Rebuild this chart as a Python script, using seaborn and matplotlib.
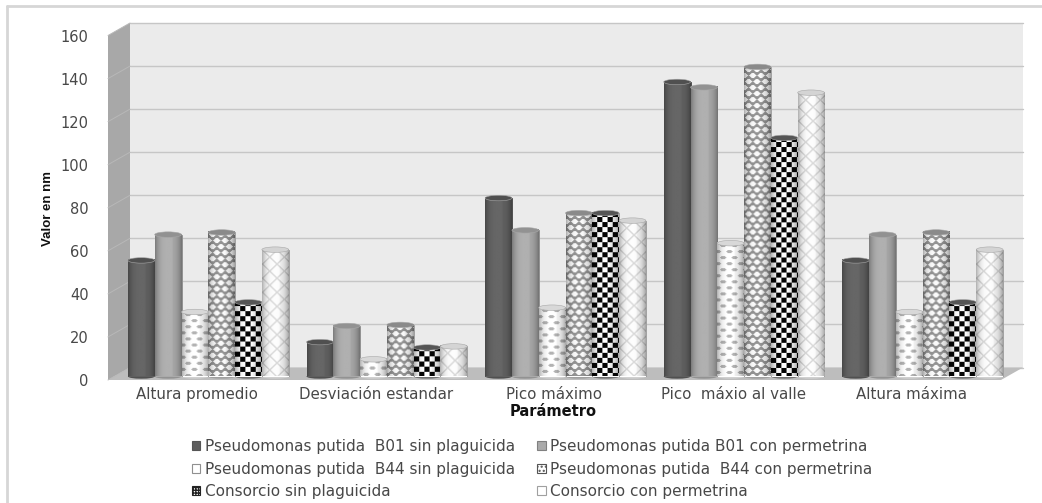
import numpy as np
import pandas as pd
import seaborn as sns
import matplotlib
matplotlib.use("Agg")
import matplotlib.pyplot as plt
from matplotlib.patches import Ellipse, Polygon, Patch
from matplotlib.lines import Line2D

parametros = ["Altura promedio", "Desviación estandar", "Pico máximo",
              "Pico  máxio al valle", "Altura máxima"]
b01_sin = [54, 16, 83, 137, 54]
b01_con = [66, 23.5, 68, 134.5, 66]
b44_sin = [30, 8, 32, 62, 30]
b44_con = [67, 24, 76, 144, 67]
consorcio_sin = [34.5, 13.5, 76, 111, 34.5]
consorcio_con = [59, 14, 72.5, 132, 59]

series_names = ["Pseudomonas putida  B01 sin plaguicida",
                "Pseudomonas putida B01 con permetrina",
                "Pseudomonas putida  B44 sin plaguicida",
                "Pseudomonas putida  B44 con permetrina",
                "Consorcio sin plaguicida",
                "Consorcio con permetrina"]
series_values = [b01_sin, b01_con, b44_sin, b44_con, consorcio_sin, consorcio_con]
base_colors = ["#5e5e5e", "#aaaaaa", "#ffffff", "#ffffff", "#ffffff", "#ffffff"]
cap_colors = ["#505050", "#929292", "#d8d8d8", "#8a8a8a", "#555555", "#d4d4d4"]
foot_colors = ["#505050", "#929292", "#d0d0d0", "#a0a0a0", "#707070", "#d0d0d0"]
y_ticks = [0, 20, 40, 60, 80, 100, 120, 140, 160]

W, H = 1042, 503
TEXT = "#484848"

df = pd.DataFrame({
    "Parámetro": np.repeat(parametros, len(series_names)),
    "Serie": series_names * len(parametros),
    "Valor": [series_values[s][p] for p in range(len(parametros))
              for s in range(len(series_names))],
})

sns.set_theme(style="white", rc={"font.family": "DejaVu Sans"})
fig = plt.figure(figsize=(W / 100, H / 100), dpi=100, facecolor="white")


def px_axes(left, top, right, bottom):
    return fig.add_axes([left / W, 1 - bottom / H, (right - left) / W, (bottom - top) / H])


# Chart frame: only the top and left rules are visible
fig.add_artist(Line2D([7 / W, 7 / W], [0, 1 - 6 / H], color="#d6d6d6", lw=2))
fig.add_artist(Line2D([7 / W, 1], [1 - 6 / H, 1 - 6 / H], color="#d6d6d6", lw=2))

# Front plane of the 3D box: carries the axis ticks and labels
L, T, R, B = 108, 35.5, 1001, 380
front = px_axes(L, T, R, B)
front.set_xlim(-0.5, len(parametros) - 0.5)
front.set_ylim(0, 160)
front.set_yticks(y_ticks)
front.set_xticks(range(len(parametros)))
front.set_xticklabels(parametros, fontsize=10.8, color=TEXT)
front.set_yticklabels([str(v) for v in y_ticks], fontsize=10.5, color=TEXT)
front.tick_params(axis="y", length=0, pad=14)
front.tick_params(axis="x", length=0, pad=5)
for spine in front.spines.values():
    spine.set_visible(False)
front.patch.set_visible(False)
fig.text(553 / W, 1 - 411 / H, "Parámetro", ha="center", va="center",
         fontsize=10.5, fontweight="bold", color="#111111")
fig.text(48 / W, 1 - 208 / H, "Valor en nm", rotation=90, ha="center", va="center",
         fontsize=9.5, fontweight="bold", family="Liberation Sans", color="#111111")

dx, dy = 22 / (R - L), 12.5 / (B - T)
tf = front.transAxes
front.add_patch(Polygon([(dx, dy), (1 + dx, dy), (1 + dx, 1 + dy), (dx, 1 + dy)],
                        transform=tf, clip_on=False, fc="#ebebeb", ec="none", zorder=0))
front.add_patch(Polygon([(0, 0), (dx, dy), (dx, 1 + dy), (0, 1)],
                        transform=tf, clip_on=False, fc="#a8a8a8", ec="none", zorder=1))
front.add_patch(Polygon([(0, 0), (1, 0), (1 + dx, dy), (dx, dy)],
                        transform=tf, clip_on=False, fc="#bdbdbd", ec="none", zorder=1))
for v in y_ticks:
    f = v / 160
    front.plot([dx, 1 + dx], [f + dy, f + dy], transform=tf, clip_on=False,
               color="#c6c6c6", lw=1.0, zorder=0.5)
    front.plot([0, dx], [f, f + dy], transform=tf, clip_on=False,
               color="#b8b8b8", lw=0.7, zorder=1.5)

# Bars stand in the middle of the box depth
bars = px_axes(L + 11, 32.5, R + 11, 376.5)
bars.patch.set_visible(False)
sns.barplot(data=df, x="Parámetro", y="Valor", hue="Serie", hue_order=series_names,
            palette=base_colors, saturation=1, width=0.9, gap=0, errorbar=None,
            legend=False, ax=bars)
bars.set_xlim(-0.5, len(parametros) - 0.5)
bars.set_ylim(0, 160)
bars.set_autoscale_on(False)
bars.axis("off")


def spots(i, j, px, py, rx, ry):
    """Boolean mask of staggered oval spots on a px x py lattice."""
    row = i // py
    x = (j + (px // 2) * (row % 2)) % px - px / 2
    y = i % py - py / 2
    return (x / rx) ** 2 + (y / ry) ** 2 <= 1


def texture(kind, h, w):
    """Greyscale fill pattern for a bar of h x w pixels."""
    j, i = np.meshgrid(np.arange(w), np.arange(h))
    if kind == 0:
        return np.full((h, w), 0.40)
    if kind == 1:
        return np.full((h, w), 0.69)
    if kind == 2:
        return np.where(spots(i, j, 11, 6, 2.8, 1.8), 0.70, 1.0)
    if kind == 3:
        return np.where(spots(i, j, 8, 6, 3.0, 2.2), 0.98, 0.58)
    if kind == 4:
        return np.where(((i // 5) + (j // 5)) % 2 == 0, 0.02, 1.0)
    a, b = (i + j) % 14, (i - j) % 14
    return np.where((a < 1.5) | (b < 1.5), 0.85, 0.99)


order = 3
for s, container in enumerate(bars.containers):
    for patch in container:
        x0, w_d, h_d = patch.get_x(), patch.get_width(), patch.get_height()
        (px0, py0), (px1, py1) = bars.transData.transform([(x0, 0), (x0 + w_d, h_d)])
        wp, hp = max(int(px1 - px0), 2), max(int(py1 - py0), 2)
        u = np.linspace(-1, 1, wp)
        shade = 1.0 - 0.28 * np.abs(u) ** 3 - 0.05 * (u > 0.3)
        img = texture(s, hp, wp) * shade[None, :]
        ell_h = 5.5 / 2.15
        # Round base, cylinder wall and top cap
        bars.add_patch(Ellipse((x0 + w_d / 2, 0), w_d, ell_h * 0.8, fc=foot_colors[s],
                               ec="none", clip_on=False, zorder=order))
        patch.set_zorder(order + 0.1)
        patch.set_edgecolor("#a0a0a0" if s > 1 else cap_colors[s])
        patch.set_linewidth(0.7)
        bars.imshow(img, extent=(x0, x0 + w_d, 0, h_d), cmap="gray", vmin=0, vmax=1,
                    aspect="auto", interpolation="bilinear", zorder=order + 0.2)
        bars.add_patch(Ellipse((x0 + w_d / 2, h_d), w_d, ell_h, fc=cap_colors[s],
                               ec="#a8a8a8", lw=0.4, clip_on=False, zorder=order + 0.3))
        order += 1

swatch_hatch = [None, None, None, "....", "++++++", None]
swatch_edges = ["#555555", "#808080", "#909090", "#555555", "#222222", "#a0a0a0"]
handles = [Patch(fc=base_colors[k], ec=swatch_edges[k], hatch=swatch_hatch[k], lw=0.8)
           for k in range(len(series_names))]
seq = [0, 2, 4, 1, 3, 5]
fig.legend([handles[k] for k in seq], [series_names[k] for k in seq], ncol=2,
           loc="upper left", bbox_to_anchor=(192 / W, 1 - 439 / H), frameon=False,
           fontsize=11, labelcolor=TEXT, handlelength=0.55, handleheight=0.55,
           handletextpad=0.3, columnspacing=1.45, labelspacing=0.5,
           borderpad=0, borderaxespad=0)

fig.savefig("out.png", dpi=100)
